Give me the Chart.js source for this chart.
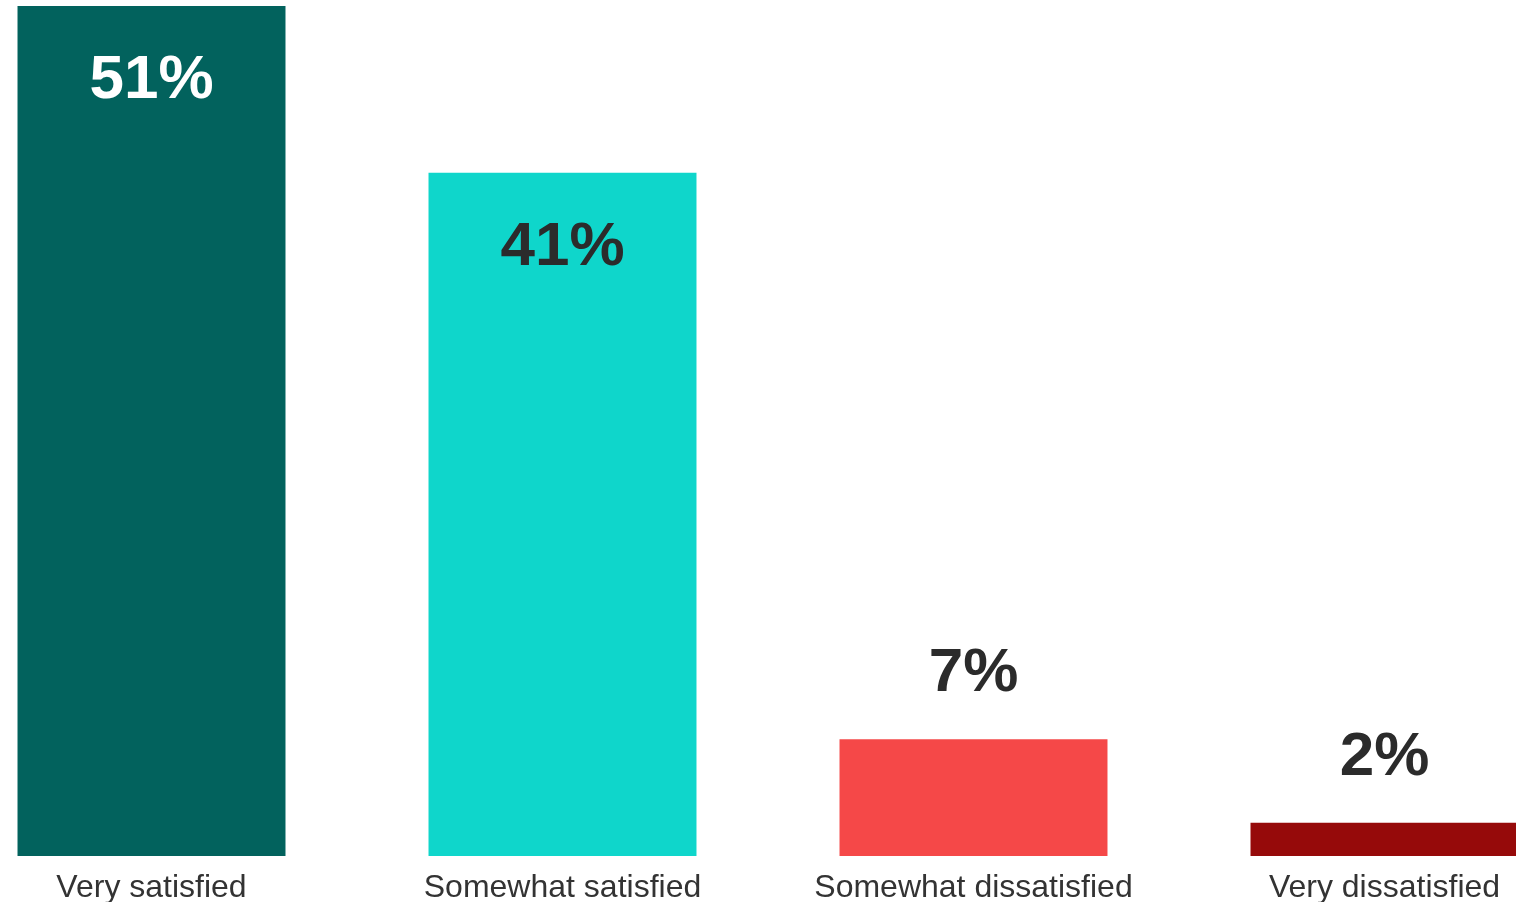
<!DOCTYPE html>
<html>
<head>
<meta charset="utf-8">
<script src="https://cdn.jsdelivr.net/npm/chart.js@4.4.1/dist/chart.umd.min.js"></script>
<style>
  html, body { margin: 0; padding: 0; background: #ffffff; overflow: hidden; }
  #wrap { position: absolute; left: -54.5px; top: 0; width: 1644px; height: 902px; }
</style>
</head>
<body>
<div id="wrap"><canvas id="chart"></canvas></div>
<script>
const categories = ['Very satisfied', 'Somewhat satisfied', 'Somewhat dissatisfied', 'Very dissatisfied'];
const shares = [51, 41, 7, 2];
const barColors = ['#02625d', '#0fd6cb', '#f54848', '#960a0a'];
const labelColors = ['#ffffff', '#2b2b2b', '#2b2b2b', '#2b2b2b'];

// Percent labels: inside the top of tall bars, above short ones
const valueLabels = {
  id: 'valueLabels',
  afterDatasetsDraw(chart) {
    const ctx = chart.ctx;
    const meta = chart.getDatasetMeta(0);
    ctx.save();
    ctx.font = 'bold 62px "Liberation Sans", Arial, sans-serif';
    ctx.textAlign = 'center';
    ctx.textBaseline = 'middle';
    meta.data.forEach((bar, i) => {
      const h = bar.base - bar.y;
      const inside = h > 300;
      const y = inside ? bar.y + 75 : bar.y - 65;
      ctx.fillStyle = labelColors[i];
      ctx.fillText(shares[i] + '%', bar.x, y);
    });
    ctx.restore();
  }
};

new Chart(document.getElementById('chart'), {
  type: 'bar',
  data: {
    labels: categories,
    datasets: [{
      data: shares,
      backgroundColor: barColors,
      borderWidth: 0,
      categoryPercentage: 1,
      barPercentage: 0.652
    }]
  },
  options: {
    responsive: true,
    maintainAspectRatio: false,
    animation: false,
    layout: { padding: { top: 6, left: 0, right: 0, bottom: 0 } },
    plugins: { legend: { display: false }, tooltip: { enabled: false } },
    scales: {
      x: {
        grid: { display: false, drawTicks: false },
        border: { display: false },
        ticks: {
          color: '#333333',
          font: { family: '"Liberation Sans", Arial, sans-serif', size: 32 },
          padding: 13,
          maxRotation: 0,
          autoSkip: false
        },
        afterFit(scale) { scale.height = 46; }
      },
      y: {
        display: false,
        min: 0,
        max: 51
      }
    }
  },
  plugins: [valueLabels]
});
</script>
</body>
</html>
